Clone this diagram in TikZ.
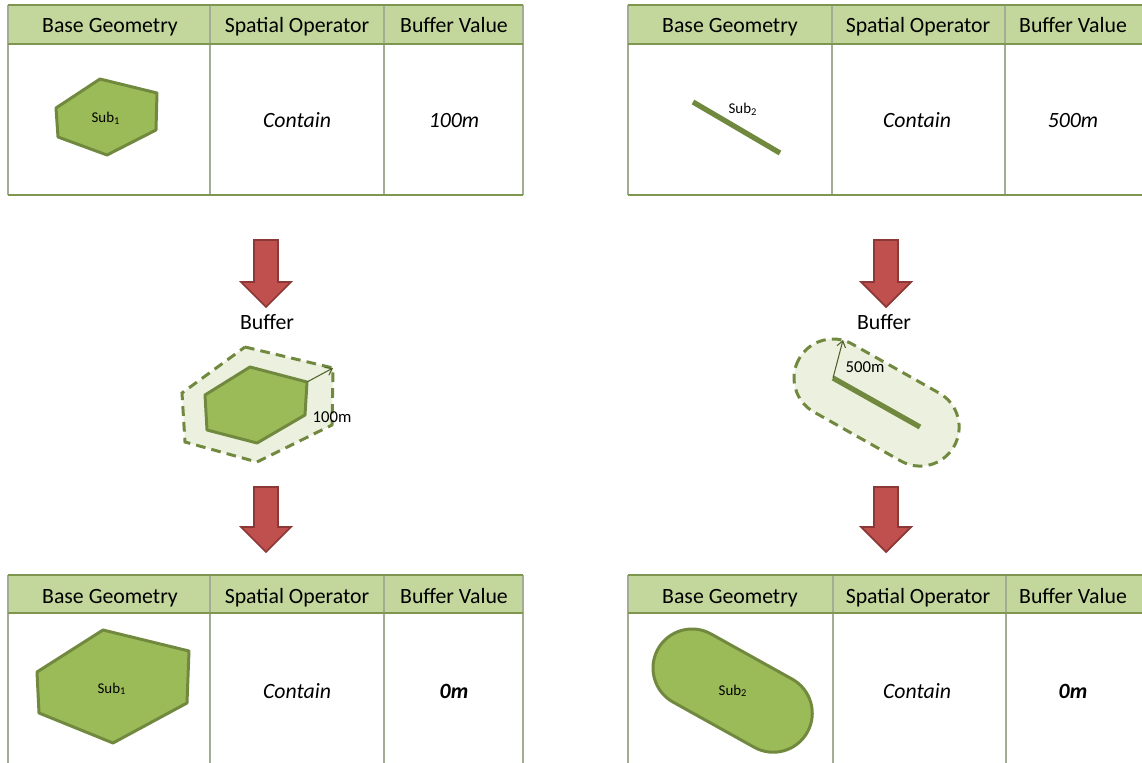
\documentclass[tikz,border=0pt]{standalone}
\usepackage{fontspec}
\setmainfont{Carlito}
\usepackage{xcolor}
\usetikzlibrary{calc, arrows, arrows.meta}

\definecolor{headfill}{HTML}{C3D69B}
\definecolor{rowline}{HTML}{7F9650}
\definecolor{colline}{HTML}{A3AC94}
\definecolor{geofill}{HTML}{9BBB59}
\definecolor{geoline}{HTML}{71893F}
\definecolor{buffill}{HTML}{EBF1DE}
\definecolor{arrfill}{HTML}{C0504D}
\definecolor{arrline}{HTML}{8C3836}
\definecolor{radline}{HTML}{4F6228}

\tikzset{
    headtext/.style={font=\fontsize{12.4}{14}\selectfont, anchor=base},
    celltext/.style={font=\fontsize{12.4}{14}\selectfont\itshape, anchor=base},
    subtext/.style={font=\fontsize{8.5}{10}\selectfont, anchor=base},
    radtext/.style={font=\fontsize{9.5}{11}\selectfont, inner sep=0pt},
    geoshape/.style={fill=geofill, draw=geoline, line width=1.7pt, line join=round},
    bufshape/.style={fill=buffill, draw=geoline, line width=1.7pt, dash pattern=on 5.5pt off 3.5pt},
    blockarrow/.style={fill=arrfill, draw=arrline, line width=1pt, line join=miter},
    radarrow/.style={-{Straight Barb[length=3.5pt, width=5pt]}, radline, line width=0.6pt}
}

\begin{document}
\begin{tikzpicture}[x=0.02cm, y=-0.02cm]

        \useasboundingbox (0,0) rectangle (1142,763);

        %% Header fills
        \fill [headfill] (8,5) rectangle (523,44);
        \fill [headfill] (628,5) rectangle (1142,44);
        \fill [headfill] (8,575) rectangle (523,613);
        \fill [headfill] (628,575) rectangle (1142,613);

        %% Table lines (top left)
        \draw [colline, line width=1.2pt] (8,5) -- (8,195);
        \draw [colline, line width=1.2pt] (210,5) -- (210,195);
        \draw [colline, line width=1.2pt] (384,5) -- (384,195);
        \draw [colline, line width=1.2pt] (523,5) -- (523,195);
        \draw [rowline, line width=1.4pt] (8,5) -- (523,5);
        \draw [rowline, line width=1.4pt] (8,44) -- (523,44);
        \draw [rowline, line width=1.4pt] (8,195) -- (523,195);

        %% Table lines (top right)
        \draw [colline, line width=1.2pt] (628,5) -- (628,195);
        \draw [colline, line width=1.2pt] (832,5) -- (832,195);
        \draw [colline, line width=1.2pt] (1005,5) -- (1005,195);
        \draw [rowline, line width=1.4pt] (628,5) -- (1142,5);
        \draw [rowline, line width=1.4pt] (628,44) -- (1142,44);
        \draw [rowline, line width=1.4pt] (628,195) -- (1142,195);

        %% Table lines (bottom left)
        \draw [colline, line width=1.2pt] (8,575) -- (8,763);
        \draw [colline, line width=1.2pt] (210,575) -- (210,763);
        \draw [colline, line width=1.2pt] (384,575) -- (384,763);
        \draw [colline, line width=1.2pt] (523,575) -- (523,763);
        \draw [rowline, line width=1.4pt] (8,575) -- (523,575);
        \draw [rowline, line width=1.4pt] (8,613) -- (523,613);

        %% Table lines (bottom right)
        \draw [colline, line width=1.2pt] (628,575) -- (628,763);
        \draw [colline, line width=1.2pt] (833,575) -- (833,763);
        \draw [colline, line width=1.2pt] (1006,575) -- (1006,763);
        \draw [rowline, line width=1.4pt] (628,575) -- (1142,575);
        \draw [rowline, line width=1.4pt] (628,613) -- (1142,613);

        %% Headers
        \node (geoTL) [headtext] at (110,33) {Base Geometry};
        \node (opTL) [headtext] at (297,33) {Spatial Operator};
        \node (bufTL) [headtext] at (454,33) {Buffer Value};
        \node (geoTR) [headtext] at (730,33) {Base Geometry};
        \node (opTR) [headtext] at (918,33) {Spatial Operator};
        \node (bufTR) [headtext] at (1073,33) {Buffer Value};
        \node (geoBL) [headtext] at (110,603) {Base Geometry};
        \node (opBL) [headtext] at (297,603) {Spatial Operator};
        \node (bufBL) [headtext] at (454,603) {Buffer Value};
        \node (geoBR) [headtext] at (730,603) {Base Geometry};
        \node (opBR) [headtext] at (918,603) {Spatial Operator};
        \node (bufBR) [headtext] at (1073,603) {Buffer Value};

        %% Cells
        \node (containTL) [celltext] at (297,128) {Contain};
        \node (valTL) [celltext] at (454,128) {100m};
        \node (containTR) [celltext] at (917,128) {Contain};
        \node (valTR) [celltext] at (1073,128) {500m};
        \node (containBL) [celltext] at (297,698) {Contain};
        \node (valBL) [celltext] at (454,698) {\textbf{0m}};
        \node (containBR) [celltext] at (917,698) {Contain};
        \node (valBR) [celltext] at (1073,698) {\textbf{0m}};

        %% Base geometries
        \draw [geoshape] (100,79) -- (157,93) -- (156,130) -- (107,155) -- (58,137) -- (56,108) -- cycle;
        \node (subTL) [subtext] at (106,123) {Sub\textsubscript{1}};
        \draw [geoline, line width=3pt] (693,102) -- (780,153);
        \node (subTR) [subtext] at (743,114) {Sub\textsubscript{2}};

        %% Block arrows
        \draw [blockarrow] (254,240) -- (278,240) -- (278,282) -- (291,282) -- (266,307) -- (241,282) -- (254,282) -- cycle;
        \draw [blockarrow] (254,487) -- (278,487) -- (278,527) -- (291,527) -- (266,552) -- (241,527) -- (254,527) -- cycle;
        \draw [blockarrow] (874,240) -- (898,240) -- (898,282) -- (911,282) -- (886,307) -- (861,282) -- (874,282) -- cycle;
        \draw [blockarrow] (874,487) -- (898,487) -- (898,527) -- (911,527) -- (886,552) -- (861,527) -- (874,527) -- cycle;

        %% Buffer labels
        \node (bufferL) [headtext] at (267,330) {Buffer};
        \node (bufferR) [headtext] at (884,330) {Buffer};

        %% Buffered polygon
        \draw [bufshape] (245,347) -- (333,368) -- (332,425) -- (257,462) -- (185,442) -- (182,393) -- cycle;
        \draw [geoshape] (250,367) -- (307,382) -- (305,415) -- (257,443) -- (207,430) -- (205,395) -- cycle;
        \coordinate (hexcorner) at (307,382);
        \coordinate (hexbuf) at (333,368);
        \draw [radarrow] (hexcorner) -- (hexbuf);
        \node (radL) [radtext] at (332,417) {100m};

        %% Buffered line
        \coordinate (lineA) at (833,378);
        \coordinate (lineB) at (920,427);
        \begin{scope}[shift={(lineA)}, rotate=-29.4]
            \draw [bufshape, rounded corners=0.78cm] (-39,-39) rectangle (139,39);
        \end{scope}
        \draw [geoline, line width=3pt] (lineA) -- (lineB);
        \coordinate (linebuf) at (843,340);
        \draw [radarrow] (lineA) -- (linebuf);
        \node (radR) [radtext] at (865,367) {500m};

        %% Result geometries
        \draw [geoshape] (103,630) -- (189,651) -- (187,703) -- (113,743) -- (39,713) -- (37,672) -- cycle;
        \node (subBL) [subtext] at (112,693) {Sub\textsubscript{1}};
        \coordinate (capA) at (692,668);
        \begin{scope}[shift={(capA)}, rotate=-29.1]
            \draw [geoshape, rounded corners=0.78cm] (-39,-39) rectangle (132,39);
        \end{scope}
        \node (subBR) [subtext] at (733,695) {Sub\textsubscript{2}};

    \end{tikzpicture}
\end{document}
